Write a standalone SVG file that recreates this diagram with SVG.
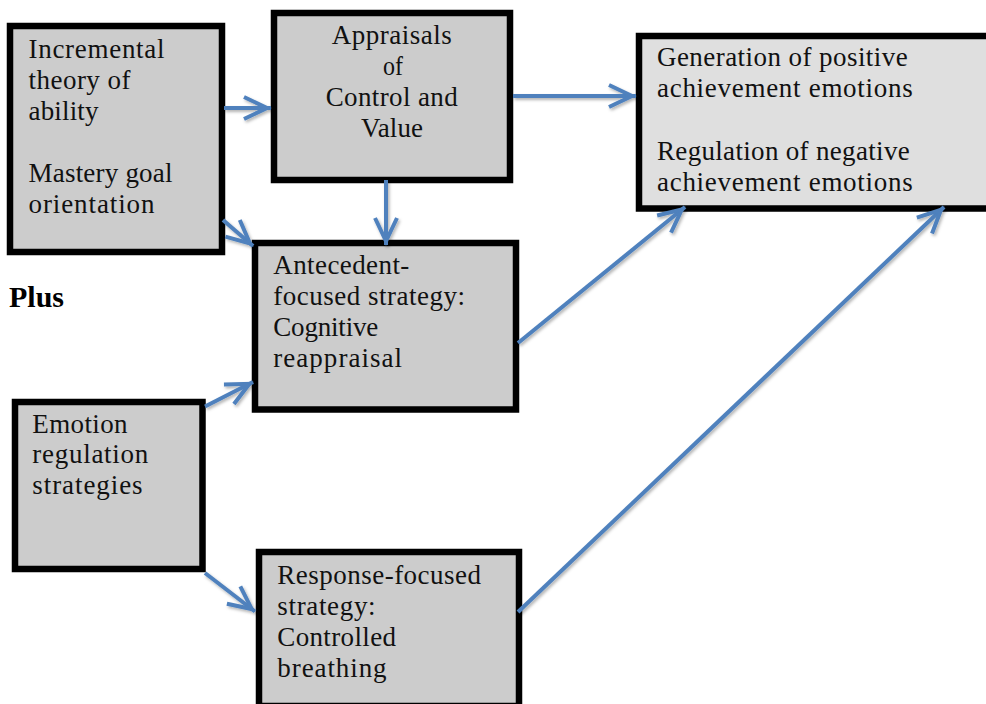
<svg xmlns="http://www.w3.org/2000/svg" width="986" height="704" viewBox="0 0 986 704">
  <style>
    .box { fill: #CCCCCC; stroke: #000000; stroke-width: 6.5; }
    .box.light { fill: #DFDFDF; }
    .t { font-family: "Liberation Serif", "Times New Roman", serif; font-size: 27px; fill: #111111; }
    .plus { font-family: "Liberation Serif", "Times New Roman", serif; font-size: 30px; font-weight: bold; fill: #000000; }
    .conn line { stroke: #4F81BD; stroke-width: 4; fill: none; marker-end: url(#arrow); }
  </style>
  <defs>
    <marker id="arrow" markerUnits="userSpaceOnUse" markerWidth="40" markerHeight="40" refX="0" refY="0" orient="auto" overflow="visible">
      <path d="M -27 -11 L -4 0 L -27 11" fill="none" stroke="#4F81BD" stroke-width="4" stroke-linejoin="miter" stroke-linecap="butt"/>
    </marker>
    <filter id="shadow" x="-10%" y="-10%" width="120%" height="120%">
      <feDropShadow dx="1.5" dy="2" stdDeviation="1.5" flood-color="#000000" flood-opacity="0.3"/>
    </filter>
  </defs>
  <rect x="0" y="0" width="986" height="704" fill="#FFFFFF"/>

  <g id="incremental">
    <rect class="box" x="10" y="26" width="212" height="226"/>
    <text class="t" x="28.5" y="57.5" textLength="136" lengthAdjust="spacing">Incremental</text>
    <text class="t" x="28.5" y="88.5" textLength="102" lengthAdjust="spacing">theory of</text>
    <text class="t" x="28.5" y="119.5" textLength="70" lengthAdjust="spacing">ability</text>
    <text class="t" x="28.5" y="181.5" textLength="144" lengthAdjust="spacing">Mastery goal</text>
    <text class="t" x="28.5" y="212.5" textLength="126" lengthAdjust="spacing">orientation</text>
  </g>

  <g id="appraisals">
    <rect class="box" x="274" y="13" width="236" height="167"/>
    <text class="t" x="331.7" y="44" textLength="120" lengthAdjust="spacing">Appraisals</text>
    <text class="t" x="383" y="75" textLength="20" lengthAdjust="spacingAndGlyphs">of</text>
    <text class="t" x="325.7" y="106" textLength="132" lengthAdjust="spacing">Control and</text>
    <text class="t" x="361" y="137" textLength="62" lengthAdjust="spacing">Value</text>
  </g>

  <g id="outcomes">
    <rect class="box light" x="639" y="36" width="400" height="172.5"/>
    <text class="t" x="657" y="66" textLength="250.7" lengthAdjust="spacing">Generation of positive</text>
    <text class="t" x="657" y="97" textLength="255.7" lengthAdjust="spacing">achievement emotions</text>
    <text class="t" x="657" y="159.5" textLength="252.7" lengthAdjust="spacing">Regulation of negative</text>
    <text class="t" x="657" y="190.5" textLength="255.7" lengthAdjust="spacing">achievement emotions</text>
  </g>

  <g id="antecedent">
    <rect class="box" x="255" y="243" width="261" height="166.5"/>
    <text class="t" x="273.3" y="274" textLength="136" lengthAdjust="spacing">Antecedent-</text>
    <text class="t" x="273.3" y="305" textLength="191.7" lengthAdjust="spacing">focused strategy:</text>
    <text class="t" x="273.3" y="336" textLength="105" lengthAdjust="spacing">Cognitive</text>
    <text class="t" x="273.3" y="367" textLength="128.7" lengthAdjust="spacing">reappraisal</text>
  </g>

  <g id="plus">
    <text class="plus" x="9" y="307">Plus</text>
  </g>

  <g id="emotion-regulation">
    <rect class="box" x="15" y="402" width="187.5" height="167"/>
    <text class="t" x="32.3" y="432.5" textLength="95.3" lengthAdjust="spacing">Emotion</text>
    <text class="t" x="32.3" y="463" textLength="116" lengthAdjust="spacing">regulation</text>
    <text class="t" x="32.3" y="493.5" textLength="110.3" lengthAdjust="spacing">strategies</text>
  </g>

  <g id="response">
    <rect class="box" x="259" y="552" width="260" height="154"/>
    <text class="t" x="277.3" y="583.5" textLength="203.7" lengthAdjust="spacing">Response-focused</text>
    <text class="t" x="277.3" y="614.5" textLength="98.3" lengthAdjust="spacing">strategy:</text>
    <text class="t" x="277.3" y="645.5" textLength="118.7" lengthAdjust="spacing">Controlled</text>
    <text class="t" x="277.3" y="676.5" textLength="109.3" lengthAdjust="spacing">breathing</text>
  </g>

  <g id="connectors" class="conn" filter="url(#shadow)">
    <line x1="224" y1="108" x2="271" y2="108"/>
    <line x1="386" y1="180" x2="386" y2="245"/>
    <line x1="223" y1="220" x2="253" y2="246"/>
    <line x1="513" y1="96" x2="636" y2="96"/>
    <line x1="518" y1="343" x2="685" y2="207"/>
    <line x1="518" y1="612" x2="944" y2="207"/>
    <line x1="205" y1="406.5" x2="253" y2="382"/>
    <line x1="205" y1="573" x2="255" y2="611.5"/>
  </g>
</svg>
